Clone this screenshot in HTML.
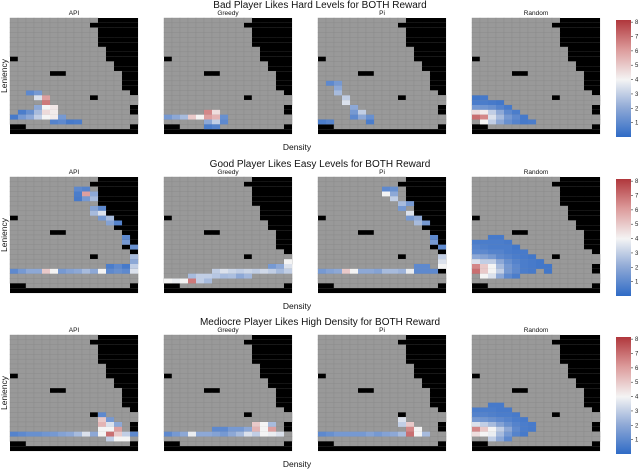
<!DOCTYPE html>
<html><head><meta charset="utf-8">
<style>
html,body{margin:0;padding:0;background:#fff;}
svg{display:block;font-family:"Liberation Sans","DejaVu Sans",sans-serif;}
</style></head>
<body>
<svg id="fig" width="640" height="469" viewBox="0 0 640 469" xmlns="http://www.w3.org/2000/svg">
<defs>
<linearGradient id="cbar" x1="0" y1="1" x2="0" y2="0">
<stop offset="0" stop-color="#2f6bc6"/>
<stop offset="0.25" stop-color="#8fa9d6"/>
<stop offset="0.49" stop-color="#f4f4f4"/>
<stop offset="0.75" stop-color="#dc9a9a"/>
<stop offset="1" stop-color="#b0373c"/>
</linearGradient>
</defs>
</svg>
<script>
// ---- data ----
const rowTitles = ["Bad Player Likes Hard Levels for BOTH Reward","Good Player Likes Easy Levels for BOTH Reward","Mediocre Player Likes High Density for BOTH Reward"];
const panelTitles = ["API","Greedy","Pi","Random"];
const cbTicks = [1,2,3,4,5,6,7,8];
const nCols = 16, nRows = 24, vMax = 8.15;
// number of black rows from top for each density column
const blackTop = [0,0,0,0,0,0,0,0,0,0,0,6,9,11,15,16];
// isolated black cells [row, col]
const blackCells = [[1,10],[8,0],[11,5],[11,6],[16,10],[18,15],[19,15],[22,0],[22,1],[22,15]];
// coloured heatmap cells [row, col, value] per panel
const r1api = [[15,2,1],[15,3,1.5],[16,3,3.5],[16,4,6],[17,4,6.8],[18,3,2],[18,4,4],[18,5,4.3],[19,1,0.6],[19,2,1.2],[19,3,2.5],[19,4,4.6],[19,5,4.2],[20,0,0.5],[20,1,1.5],[20,2,2],[20,3,3],[20,4,4],[20,5,4.2],[20,6,1.5],[21,5,0.8],[21,6,1],[21,7,0.5],[21,8,0.6]];
const r1greedy = [[19,5,6.5],[19,6,4.5],[20,0,1.5],[20,1,2],[20,2,2.5],[20,3,5],[20,4,4],[20,5,6],[20,6,5.5],[20,7,1.2],[21,5,2],[21,6,3],[21,7,1],[22,5,0.6],[22,6,0.8]];
const r1pi = [[13,1,1],[13,2,1.5],[14,2,2],[15,2,2.5],[16,3,3],[17,3,3.5],[18,4,2],[19,4,1.5],[19,5,3],[20,4,1],[20,5,2],[20,6,1.2],[21,0,0.6],[21,1,0.8],[21,6,0.6]];
const r1rand = [[16,0,0.4],[16,1,0.5],[17,0,0.6],[17,1,0.6],[17,2,0.5],[17,3,0.4],[18,0,1.5],[18,1,1.4],[18,2,1.2],[18,3,0.8],[18,4,0.5],[19,0,4.5],[19,1,4.2],[19,2,3],[19,3,2],[19,4,1],[19,5,0.6],[20,0,7],[20,1,6.5],[20,2,3.5],[20,3,2.5],[20,4,1.5],[20,5,1],[20,6,0.5],[21,1,4],[21,2,3],[21,3,2],[21,4,1.2],[21,5,0.8],[21,6,0.5],[21,7,0.6]];
const r2api = [[2,8,1],[2,9,0.8],[3,8,0.6],[3,9,6],[3,10,2],[4,8,0.5],[4,9,1.5],[4,10,2.5],[6,10,1.8],[6,11,1],[7,10,2.5],[7,11,3.5],[8,11,1.5],[8,12,2.5],[9,12,1.8],[9,13,0.8],[12,14,1],[13,14,1.5],[14,15,1.2],[16,15,2.5],[17,15,2],[18,12,0.6],[18,13,1],[18,14,0.5],[18,15,3],[19,0,1],[19,1,1.5],[19,2,2],[19,3,2],[19,4,5],[19,5,4],[19,6,1.5],[19,7,1.8],[19,8,2],[19,9,2.5],[19,10,2],[19,11,4],[19,12,1],[19,13,1.2],[19,14,1],[19,15,3.5]];
const r2greedy = [[17,15,4],[18,13,1.5],[18,14,2],[18,15,3.5],[19,6,3],[19,7,3.5],[19,8,3.2],[19,9,3],[19,10,3.2],[19,11,3],[19,12,3.3],[19,13,3],[19,14,2.5],[19,15,3],[20,3,2.5],[20,4,3],[20,5,3],[20,6,2.8],[20,7,2.5],[20,8,2.6],[20,9,2],[20,10,2.4],[21,0,4],[21,1,3.8],[21,2,4],[21,3,6.8],[21,4,3],[21,5,2.5]];
const r2pi = [[2,8,1],[2,9,1.2],[3,8,4],[3,9,2],[4,9,3],[5,10,2.5],[5,11,1.5],[6,10,1.5],[7,11,3.5],[8,11,1.5],[8,12,2],[9,12,2.5],[9,13,1.5],[12,14,1],[13,14,1.5],[14,15,1],[16,15,3],[17,15,3.5],[18,12,1],[18,13,1],[18,15,4],[19,0,1.5],[19,1,1.8],[19,2,2],[19,3,5],[19,4,4],[19,5,2],[19,6,2],[19,7,1.8],[19,8,2.5],[19,9,2.5],[19,10,2.3],[19,11,3.8],[19,12,1],[19,13,1],[19,14,1]];
const r2rand = [[12,2,0.5],[12,3,0.5],[13,0,0.6],[13,1,0.6],[13,2,0.6],[13,3,0.6],[13,4,0.5],[14,0,0.8],[14,1,0.7],[14,2,0.6],[14,3,0.6],[14,4,0.6],[14,5,0.4],[15,0,1],[15,1,1],[15,2,0.8],[15,3,0.8],[15,4,0.6],[15,5,0.5],[15,6,0.5],[16,0,2],[16,1,1.8],[16,2,1.5],[16,3,1],[16,4,0.8],[16,5,0.6],[16,6,0.5],[16,7,0.4],[17,0,3.5],[17,1,3],[17,2,3],[17,3,2],[17,4,1.2],[17,5,0.8],[17,6,0.6],[17,7,0.5],[17,8,0.4],[18,0,6.5],[18,1,5],[18,2,4],[18,3,2.5],[18,4,1.5],[18,5,1],[18,6,0.6],[18,7,0.5],[18,8,0.4],[18,9,0.4],[19,0,7],[19,1,5],[19,2,4],[19,3,3],[19,4,1.5],[19,5,1],[19,6,0.6],[19,7,0.5],[19,9,0.4],[20,1,4],[20,2,3.5],[20,3,2],[20,4,1],[20,5,0.6]];
const r3api = [[16,11,1],[17,11,5],[17,12,1.5],[18,11,5.5],[18,12,3.5],[18,13,2],[19,11,4],[19,12,4],[19,13,6],[20,0,0.8],[20,1,1],[20,2,1.2],[20,3,1.2],[20,4,1.4],[20,5,1.5],[20,6,1.8],[20,7,2],[20,8,2.5],[20,9,3.5],[20,10,2],[20,11,4],[20,12,7],[20,13,5],[20,14,3],[20,15,1],[21,12,3],[21,13,4],[21,14,4]];
const r3greedy = [[18,11,5],[18,12,4],[18,13,2.5],[19,6,1],[19,7,1],[19,8,1.5],[19,9,1.5],[19,10,2],[19,11,5.5],[19,12,4],[19,13,6],[20,0,1],[20,1,1.5],[20,2,2],[20,3,3.8],[20,4,2],[20,5,2],[20,6,1.8],[20,7,1.5],[20,8,2],[20,9,2.5],[20,10,3.5],[20,11,3],[20,12,4],[20,13,3.8],[20,14,3.5]];
const r3pi = [[17,10,3.5],[18,10,3],[18,11,5],[19,11,6.5],[19,12,4],[20,0,1],[20,1,1.2],[20,2,1.5],[20,3,1.5],[20,4,1.5],[20,5,1.5],[20,6,1.8],[20,7,1.5],[20,8,1.8],[20,9,2],[20,10,2.5],[20,11,7],[20,12,4],[20,13,2.5]];
const r3rand = [[14,2,0.5],[14,3,0.5],[15,0,0.6],[15,1,0.6],[15,2,0.6],[15,3,0.5],[15,4,0.5],[16,0,0.8],[16,1,0.8],[16,2,0.7],[16,3,0.6],[16,4,0.6],[16,5,0.5],[17,0,1.5],[17,1,1.4],[17,2,1.2],[17,3,1],[17,4,0.8],[17,5,0.6],[17,6,0.5],[18,0,3.5],[18,1,3],[18,2,2.5],[18,3,1.8],[18,4,1.2],[18,5,0.8],[18,6,0.6],[18,7,0.5],[19,0,6.5],[19,1,5],[19,2,4],[19,3,3],[19,4,2],[19,5,1],[19,6,0.6],[19,7,0.5],[20,0,4.5],[20,1,4],[20,2,3.8],[20,3,2.5],[20,4,1.5],[20,5,0.8],[20,6,0.5],[21,2,3],[21,3,2],[21,4,1]];
const panelData = [[r1api,r1greedy,r1pi,r1rand],[r2api,r2greedy,r2pi,r2rand],[r3api,r3greedy,r3pi,r3rand]];

// ---- layout ----
const NS = "http://www.w3.org/2000/svg";
const svg = document.getElementById("fig");
const panelX = [10,164,318,472], panelW = 128, panelH = 116;
const rowY = [18,177,335];
const cellW = panelW / nCols, cellH = panelH / nRows;
function xScale(c){ return c * cellW; }
function yScale(r){ return r * cellH; }
function mk(tag, attrs, parent){
  const e = document.createElementNS(NS, tag);
  for (const k in attrs) e.setAttribute(k, attrs[k]);
  (parent || svg).appendChild(e);
  return e;
}
function lerp(a,b,t){ return a + (b-a)*t; }
function colorFor(v){
  const t = Math.max(0, Math.min(1, v / vMax));
  const stops = [[0,[47,107,198]],[0.25,[143,169,214]],[0.49,[244,244,244]],[0.75,[220,154,154]],[1,[176,55,60]]];
  for (let i=1;i<stops.length;i++){
    if (t <= stops[i][0]){
      const a = stops[i-1], b = stops[i];
      const u = (t - a[0]) / (b[0] - a[0]);
      return "rgb(" + [0,1,2].map(j => Math.round(lerp(a[1][j], b[1][j], u))).join(",") + ")";
    }
  }
  return "rgb(176,55,60)";
}
function isBlack(r,c){
  if (r < blackTop[c]) return true;
  if (r === nRows - 1) return true;
  return blackCells.some(b => b[0] === r && b[1] === c);
}

rowTitles.forEach((title, ri) => {
  const y0 = rowY[ri];
  const t = mk("text", {x: 320, y: y0 - 10, "text-anchor": "middle", "font-size": 10, fill: "#111"});
  
  
  t.textContent = title;

  const yl = mk("text", {x: 0, y: 0, "text-anchor": "middle", "font-size": 8.5, fill: "#111", transform: "translate(7," + (y0 + panelH/2) + ") rotate(-90)"});
  
  
  yl.textContent = "Leniency";

  const xl = mk("text", {x: 297, y: y0 + panelH + 16, "text-anchor": "middle", "font-size": 8.5, fill: "#111"});
  
  
  xl.textContent = "Density";

  panelTitles.forEach((pt, pi) => {
    const px = panelX[pi];
    const g = mk("g", {transform: "translate(" + px + "," + y0 + ")"});
    
    
    const st = mk("text", {x: panelW/2, y: -3, "text-anchor": "middle", "font-size": 6.5, fill: "#111"}, g);
    
    
    st.textContent = pt;
    for (let r = 0; r < nRows; r++){
      for (let c = 0; c < nCols; c++){
        const cell = mk("rect", {x: xScale(c), y: yScale(r), width: cellW + 0.05, height: cellH + 0.05,
          fill: isBlack(r,c) ? "#000" : "#999", stroke: isBlack(r,c) ? "none" : "#8a8a8a", "stroke-width": 0.4}, g);
        
        
      }
    }
    panelData[ri][pi].forEach(d => {
      const cell = mk("rect", {x: xScale(d[1]), y: yScale(d[0]), width: cellW + 0.05, height: cellH + 0.05, fill: colorFor(d[2])}, g);
      
      
    });
  });

  // colorbar
  const cbY = y0 + 2, cbH = panelH + 1;
  const cb = mk("rect", {x: 616, y: cbY, width: 15, height: cbH, fill: "url(#cbar)"});
  
  
  cbTicks.forEach(tv => {
    const ty = cbY + cbH - tv / vMax * cbH;
    const tk = mk("line", {x1: 631, x2: 633, y1: ty, y2: ty, stroke: "#333", "stroke-width": 0.6});
    
    
    const tl = mk("text", {x: 635, y: ty + 2, "font-size": 6, fill: "#222"});
    
    
    tl.textContent = tv;
  });
});
</script>
</body></html>
